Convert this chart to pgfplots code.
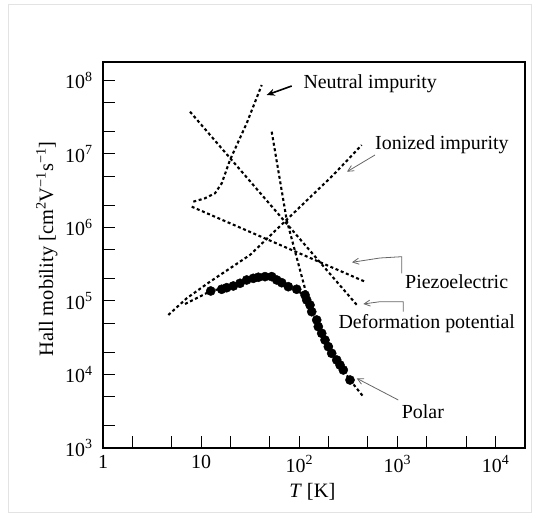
\documentclass[border=0pt]{standalone}
\usepackage{pgfplots}
\pgfplotsset{compat=1.18}
\usetikzlibrary{arrows.meta}
\usepackage{fontspec}
\setmainfont{Liberation Serif}
\pgfplotsset{dotline/.style={no marks, black, line width=2.1bp, dash pattern=on 3bp off 2.6bp}}
\begin{document}
\begin{tikzpicture}
\begin{axis}[
  at={(0,0)}, anchor=south west,
  scale only axis, width=422bp, height=386bp,
  xmode=log, ymode=log,
  xmin=1, xmax=19953, ymin=1000, ymax=1.778e8,
  xtick={1,10,100,1000,10000},
  xticklabels={1,10,10\textsuperscript{2},10\textsuperscript{3},10\textsuperscript{4}},
  minor xtick={2,5,20,50,200,500,2000,5000},
  ytick={1e3,1e4,1e5,1e6,1e7,1e8},
  yticklabels={10\textsuperscript{3},10\textsuperscript{4},10\textsuperscript{5},10\textsuperscript{6},10\textsuperscript{7},10\textsuperscript{8}},
  minor ytick={2e3,5e3,2e4,5e4,2e5,5e5,2e6,5e6,2e7,5e7},
  tick align=inside, xtick pos=left, ytick pos=left,
  major tick length=12bp, minor tick length=12bp,
  every tick/.style={black, line width=1pt},
  axis line style={line width=1.7pt},
  tick label style={font=\fontsize{20}{24}\selectfont},
  xticklabel style={yshift=-4bp},
  yticklabel style={xshift=-7bp},
  label style={font=\fontsize{20.5}{24}\selectfont},
  xlabel={\textit{T} [K]},
  xlabel style={at={(axis description cs:0.496,-0.113)}, anchor=center},
  ylabel={Hall mobility [cm\textsuperscript{2}V\textsuperscript{−1}s\textsuperscript{−1}]},
  ylabel style={at={(axis description cs:-0.133,0.516)}, anchor=center},
  clip=false,
]
% Neutral impurity
\addplot[dotline] coordinates {(8.32,2.24e6) (10.95,2.49e6) (13.84,2.91e6) (16.20,3.98e6) (19.68,8.26e6) (29.12,2.61e7) (41.41,8.65e7)};
% Piezoelectric
\addplot[dotline] coordinates {(8.01,1.915e6) (467.3,1.828e5)};
% Deformation potential
\addplot[dotline] coordinates {(7.70,3.75e7) (399.4,8.36e4)};
% Ionized impurity
\addplot[dotline] coordinates {(4.63,6.44e4) (7.13,1.087e5) (12.31,1.828e5) (31.47,4.22e5) (222.2,5.17e6) (432.5,1.32e7)};
% Polar
\addplot[dotline] coordinates {(52.36,2.005e7) (74.4,1.262e6) (101.7,2.64e5) (119.0,1.205e5) (133.9,7.14e4) (182.9,2.94e4) (260.0,1.345e4) (328.7,8.41e3) (449.1,4.99e3)};
% Total (fit)
\addplot[dotline] coordinates {(6.85,9.10e4) (9.29,1.114e5) (12.52,1.366e5) (21.27,1.598e5) (34.0,2.03e5) (48.0,2.14e5) (77.3,1.563e5) (114.4,1.205e5)};
% Data
\addplot[only marks, mark=*, mark size=4.6bp, black] coordinates {
(12.52,1.366e5) (16.20,1.442e5) (18.21,1.514e5) (21.27,1.598e5) (24.89,1.738e5)
(29.12,1.928e5) (34.0,2.03e5) (38.23,2.10e5) (44.74,2.14e5) (52.36,2.14e5)
(58.9,1.928e5) (66.2,1.771e5) (77.3,1.563e5) (94.1,1.442e5) (114.4,1.205e5)
(119.0,1.031e5) (128.6,8.81e4) (133.9,7.14e4) (150.5,5.51e4) (156.2,4.47e4)
(169.2,3.63e4) (182.9,2.94e4) (197.6,2.39e4) (213.9,1.94e4) (240.6,1.574e4)
(260.0,1.345e4) (280.9,1.151e4) (328.7,8.41e3)};
\end{axis}
\begin{scope}[x=1bp,y=1bp]
\path[use as bounding box] (-103,-70) rectangle (432,448);
\draw[gray!22, line width=0.6bp] (-95,444) rectangle (428,-64);
\begin{scope}[font=\fontsize{20}{24}\selectfont, inner sep=0pt]
\node[anchor=base west] at (200.3,359.7) {Neutral impurity};
\node[anchor=base west] at (272,298) {Ionized impurity};
\node[anchor=base west] at (302,159.7) {Piezoelectric};
\node[anchor=base west] at (235.3,119.7) {Deformation potential};
\node[anchor=base west] at (298.7,29.7) {Polar};
\end{scope}
\draw[black, line width=1.6bp, -{Stealth[length=8bp,width=7bp]}] (188.7,362) -- (163.7,353);
\draw[gray!80!black, line width=0.8bp, -{Straight Barb[length=6bp,width=6bp]}] (272,293) -- (244,276.3);
\draw[gray!80!black, line width=0.8bp, -{Straight Barb[length=6bp,width=6bp]}] (298.7,174.7) -- (298.7,191.3) -- (277,190) -- (249,185.7);
\draw[gray!80!black, line width=0.8bp, -{Straight Barb[length=6bp,width=6bp]}] (300.3,136.3) -- (300.3,146.3) -- (277,146.3) -- (260.3,144);
\draw[gray!80!black, line width=0.8bp, -{Straight Barb[length=6bp,width=6bp]}] (295.3,48) -- (253.7,69.7);
\end{scope}
\end{tikzpicture}
\end{document}
